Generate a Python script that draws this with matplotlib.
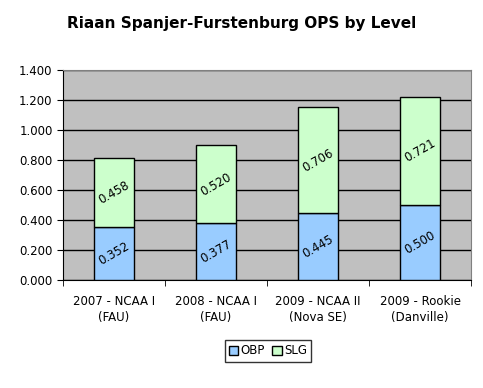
import matplotlib.pyplot as plt
import numpy as np

# Data
levels = ['2007 - NCAA I\n(FAU)', '2008 - NCAA I\n(FAU)',
          '2009 - NCAA II\n(Nova SE)', '2009 - Rookie\n(Danville)']
obp = [0.352, 0.377, 0.445, 0.500]
slg = [0.458, 0.520, 0.706, 0.721]
yticks = [0.0, 0.2, 0.4, 0.6, 0.8, 1.0, 1.2, 1.4]

fig = plt.figure(figsize=(4.83, 3.88), dpi=100)
ax = fig.add_axes([63 / 483, 1 - 280 / 388, 408 / 483, 210 / 388])
ax.set_facecolor('#C0C0C0')

x = np.arange(len(levels))
ax.bar(x, obp, width=0.39, color='#99CCFF', edgecolor='black', linewidth=1, label='OBP', zorder=3)
ax.bar(x, slg, width=0.39, bottom=obp, color='#CCFFCC', edgecolor='black', linewidth=1, label='SLG', zorder=3)

for i in range(len(levels)):
    ax.text(x[i], obp[i] / 2, f'{obp[i]:.3f}', ha='center', va='center',
            rotation=30, fontsize=8.5, zorder=4)
    ax.text(x[i], obp[i] + slg[i] / 2, f'{slg[i]:.3f}', ha='center', va='center',
            rotation=30, fontsize=8.5, zorder=4)

ax.set_xlim(-0.5, len(levels) - 0.5)
ax.set_ylim(0, 1.4)
ax.set_yticks(yticks)
ax.set_yticklabels([f'{v:.3f}' for v in yticks], fontsize=8.5)
ax.yaxis.grid(True, color='black', linewidth=1, zorder=1)

ax.set_xticks(x)
ax.set_xticklabels(levels, fontsize=8.5, linespacing=1.3)
ax.set_xticks(np.arange(-0.5, len(levels)), minor=True)
ax.tick_params(axis='x', which='major', length=0, pad=11)
ax.tick_params(axis='x', which='minor', length=4, direction='out')
ax.tick_params(axis='y', length=4, direction='out')

for side in ['top', 'right']:
    ax.spines[side].set_color('#808080')
for side in ['left', 'bottom']:
    ax.spines[side].set_color('black')

fig.suptitle('Riaan Spanjer-Furstenburg OPS by Level', x=0.5, y=0.96,
             fontsize=11, fontweight='bold')

leg = fig.legend(loc='center', bbox_to_anchor=(268 / 483, 1 - 351 / 388), ncol=2,
                 fontsize=8.5, frameon=True, fancybox=False, edgecolor='black',
                 handlelength=0.8, handleheight=0.8, handletextpad=0.2,
                 columnspacing=0.6, borderpad=0.35)
leg.get_frame().set_linewidth(1)

fig.savefig('out.png', dpi=100)
